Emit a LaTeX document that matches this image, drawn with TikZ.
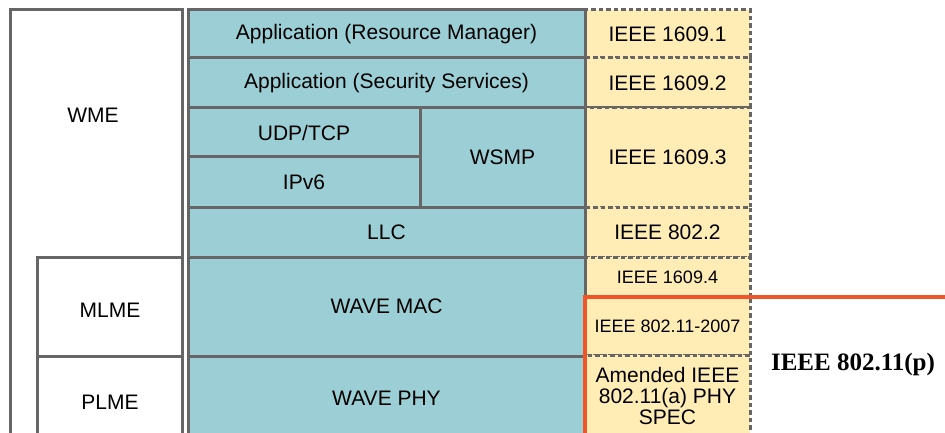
\documentclass[tikz,border=0pt]{standalone}
\usepackage{fontspec}
\setmainfont{Liberation Sans}
\newfontfamily\timesbold{Liberation Serif}
\usepackage{tikz}

\definecolor{linegray}{RGB}{102,102,102}
\definecolor{stackteal}{RGB}{155,207,213}
\definecolor{specyellow}{RGB}{255,237,181}
\definecolor{rimorange}{RGB}{240,84,40}

\begin{document}
\begin{tikzpicture}[x=1pt, y=-1pt,
		entitybox/.style={draw=linegray, line width=3pt, fill=white, inner sep=0pt},
		stackbox/.style={draw=linegray, line width=3pt, fill=stackteal, inner sep=0pt,
			font=\fontsize{21}{24}\selectfont},
		specbox/.style={draw=linegray, line width=3pt, dash pattern=on 4.5pt off 3pt,
			fill=specyellow, inner sep=0pt, align=center,
			font=\fontsize{21}{21}\selectfont},
		orangeline/.style={draw=rimorange, line width=4pt}]
		\useasboundingbox (0,0) rectangle (945,433);
		\clip (0,0) rectangle (945,433);

		% management entities
		\node[entitybox, minimum width=172, minimum height=430] (wmebox) at (96,225) {};
		\node[entitybox, minimum width=145, minimum height=99] (mlmebox) at (109.5,306.5) {};
		\node[entitybox, minimum width=145, minimum height=84] (plmebox) at (109.5,398) {};
		\node[font=\fontsize{21}{24}\selectfont] (wme) at (93,115) {WME};
		\node[font=\fontsize{21}{24}\selectfont] (mlme) at (110,310) {MLME};
		\node[font=\fontsize{21}{24}\selectfont] (plme) at (110,402) {PLME};

		% standards column
		\node[specbox, minimum width=165, minimum height=48] (ieee1) at (667.5,34) {IEEE 1609.1};
		\node[specbox, minimum width=165, minimum height=50] (ieee2) at (667.5,83) {IEEE 1609.2};
		\node[specbox, minimum width=165, minimum height=99] (ieee3) at (667.5,157.5) {IEEE 1609.3};
		\node[specbox, minimum width=165, minimum height=50] (ieee8022) at (667.5,232) {IEEE 802.2};
		\node[specbox, minimum width=165, minimum height=40, font=\fontsize{18}{21}\selectfont] (ieee4) at (667.5,277) {IEEE 1609.4};
		\node[specbox, minimum width=165, minimum height=58, font=\fontsize{18}{21}\selectfont] (ieee80211) at (667.5,326) {IEEE 802.11-2007};
		\node[specbox, minimum width=165, minimum height=82] (amended) at (667.5,396) {Amended IEEE\\802.11(a) PHY\\SPEC};

		% protocol stack
		\node[stackbox, minimum width=397, minimum height=48] (resmgr) at (386.5,34) {Application (Resource Manager)};
		\node[stackbox, minimum width=397, minimum height=50] (secserv) at (386.5,83) {Application (Security Services)};
		\node[stackbox, minimum width=232, minimum height=49] (udptcp) at (304,132.5) {UDP/TCP};
		\node[stackbox, minimum width=232, minimum height=50] (ipv6) at (304,182) {IPv6};
		\node[stackbox, minimum width=165, minimum height=99] (wsmp) at (502.5,157.5) {WSMP};
		\node[stackbox, minimum width=397, minimum height=50] (llc) at (386.5,232) {LLC};
		\node[stackbox, minimum width=397, minimum height=99] (wavemac) at (386.5,306.5) {WAVE MAC};
		\node[stackbox, minimum width=397, minimum height=84] (wavephy) at (386.5,398) {WAVE PHY};

		% 802.11p bracket
		\coordinate (rimend) at (945,297);
		\coordinate (rimcorner) at (585,297);
		\coordinate (rimbottom) at (585,440);
		\draw[orangeline] (rimend) -- (rimcorner) -- (rimbottom);
		\node[font=\timesbold\bfseries\fontsize{25}{28}\selectfont] (p80211) at (853,364) {IEEE 802.11(p)};
	\end{tikzpicture}
\end{document}
